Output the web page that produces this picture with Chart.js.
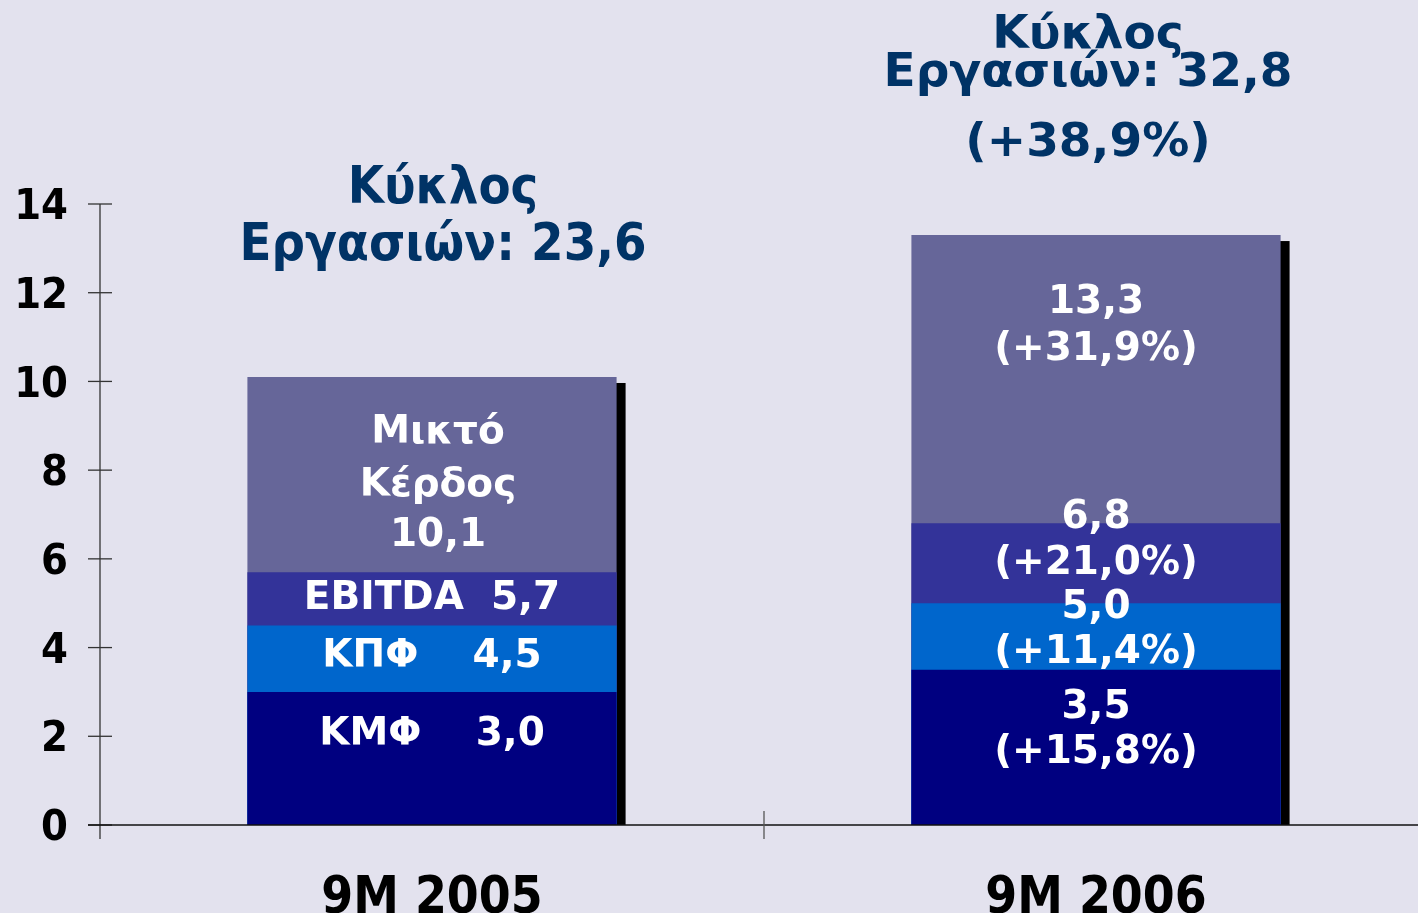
<!DOCTYPE html>
<html>
<head>
<meta charset="utf-8">
<script src="https://cdn.jsdelivr.net/npm/chart.js@4"></script>
<style>
  html, body { margin: 0; padding: 0; overflow: hidden; background: #E3E2EE; }
  #wrap { width: 1418px; height: 913px; overflow: hidden; }
</style>
</head>
<body>
<div id="wrap"><canvas id="chart" width="1428" height="913"></canvas></div>
<script>
// Δεδομένα (εκατ. €)
const categories = ['9M 2005', '9M 2006'];
const seriesNames = ['ΚΜΦ', 'ΚΠΦ', 'EBITDA', 'Μικτό Κέρδος'];
const kmf = [3.0, 3.5];
const kpf = [4.5, 5.0];
const ebitda = [5.7, 6.8];
const mikto = [10.1, 13.3];
const yTicks = [0, 2, 4, 6, 8, 10, 12, 14];

// Κείμενα ετικετών ανά σειρά / κατηγορία
const labelTexts = [
    [['ΚΜΦ    3,0'], ['3,5', '(+15,8%)']],
    [['ΚΠΦ    4,5'], ['5,0', '(+11,4%)']],
    [['EBITDA  5,7'], ['6,8', '(+21,0%)']],
    [['Μικτό', 'Κέρδος', '10,1'], ['13,3', '(+31,9%)']]
];
const titles = [
    ['Κύκλος', 'Εργασιών: 23,6'],
    ['Κύκλος', 'Εργασιών: 32,8', '(+38,9%)']
];

const colors = ['#000080', '#0066CC', '#333399', '#666699'];
const NARROW = '"DejaVu Sans Condensed", "Liberation Sans Narrow", sans-serif';
const WIDE = '"DejaVu Sans", Verdana, sans-serif';

// μετατοπίσεις κειμένων (px) από την κορυφή κάθε μπάρας
const labelOffsets = [
    [[43], [38, 83]],
    [[31], [5, 50]],
    [[27], [-5, 41]],
    [[56, 109, 159], [68, 115]]
];
const labelDx = [[0, 0], [0, 0], [0, 0], [6, 0]];
const titleLayout = [
    { dx: 11, ys: [189, 246], font: 'bold 52px ' + NARROW },
    { dx: -8, ys: [36, 74, 144], font: 'bold 47px ' + WIDE }
];

const shadowPlugin = {
    id: 'shadow',
    beforeDatasetsDraw(chart) {
        const ctx = chart.ctx, area = chart.chartArea;
        const meta = chart.getDatasetMeta(3);
        ctx.save();
        ctx.beginPath();
        ctx.rect(area.left, area.top - 50, area.right - area.left, area.bottom - area.top + 50);
        ctx.clip();
        ctx.fillStyle = '#000';
        meta.data.forEach(bar => {
            const w = bar.width;
            ctx.fillRect(bar.x - w / 2 + 9, bar.y + 6, w, bar.base - bar.y);
        });
        ctx.restore();
    }
};

const axesPlugin = {
    id: 'axes',
    afterDatasetsDraw(chart) {
        const ctx = chart.ctx, area = chart.chartArea;
        const y = chart.scales.y;
        ctx.save();
        ctx.strokeStyle = '#333';
        ctx.lineWidth = 1.3;
        // άξονας y
        ctx.beginPath();
        ctx.moveTo(area.left, y.getPixelForValue(14));
        ctx.lineTo(area.left, area.bottom + 14);
        ctx.stroke();
        yTicks.forEach(v => {
            const py = y.getPixelForValue(v);
            ctx.beginPath();
            ctx.moveTo(area.left - 12, py);
            ctx.lineTo(area.left + 12, py);
            ctx.stroke();
        });
        // άξονας x
        ctx.strokeStyle = '#111';
        ctx.beginPath();
        ctx.moveTo(area.left - 12, area.bottom);
        ctx.lineTo(chart.width, area.bottom);
        ctx.stroke();
        const step = (area.right - area.left) / categories.length;
        ctx.strokeStyle = '#555';
        for (let i = 1; i <= categories.length; i++) {
            const px = area.left + step * i;
            ctx.beginPath();
            ctx.moveTo(px, area.bottom - 14);
            ctx.lineTo(px, area.bottom + 14);
            ctx.stroke();
        }
        ctx.restore();
    }
};

const labelPlugin = {
    id: 'labels',
    afterDraw(chart) {
        const ctx = chart.ctx;
        ctx.save();
        ctx.textAlign = 'center';
        ctx.textBaseline = 'middle';
        ctx.fillStyle = '#fff';
        ctx.font = 'bold 39px ' + WIDE;
        labelTexts.forEach((perCat, d) => {
            const meta = chart.getDatasetMeta(d);
            perCat.forEach((lines, i) => {
                const bar = meta.data[i];
                lines.forEach((t, k) => {
                    ctx.fillText(t, bar.x + labelDx[d][i], bar.y + labelOffsets[d][i][k]);
                });
            });
        });
        ctx.fillStyle = '#003366';
        const meta = chart.getDatasetMeta(3);
        titles.forEach((lines, i) => {
            const lay = titleLayout[i];
            ctx.font = lay.font;
            lines.forEach((t, k) => ctx.fillText(t, meta.data[i].x + lay.dx, lay.ys[k]));
        });
        ctx.restore();
    }
};

new Chart(document.getElementById('chart'), {
    type: 'bar',
    data: {
        labels: categories,
        datasets: [kmf, kpf, ebitda, mikto].map((d, i) => ({
            label: seriesNames[i],
            data: d,
            backgroundColor: colors[i],
            borderWidth: 0,
            categoryPercentage: 1,
            barPercentage: 0.556
        }))
    },
    options: {
        responsive: false,
        animation: false,
        layout: { padding: { top: 204, right: 0, left: 0, bottom: 0 } },
        plugins: { legend: { display: false }, tooltip: { enabled: false } },
        scales: {
            x: {
                stacked: true,
                grid: { display: false },
                border: { display: false },
                ticks: { color: '#000', font: { family: NARROW, size: 51, weight: 'bold' }, padding: 36 },
                afterFit: s => { s.height = 88; }
            },
            y: {
                stacked: false,
                min: 0,
                max: 14,
                grid: { display: false },
                border: { display: false },
                ticks: {
                    stepSize: 2,
                    color: '#000',
                    padding: 24,
                    labelOffset: 4,
                    font: { family: NARROW, size: 43, weight: 'bold' }
                },
                afterFit: s => { s.width = 100; }
            }
        }
    },
    plugins: [shadowPlugin, axesPlugin, labelPlugin]
});
</script>
</body>
</html>
